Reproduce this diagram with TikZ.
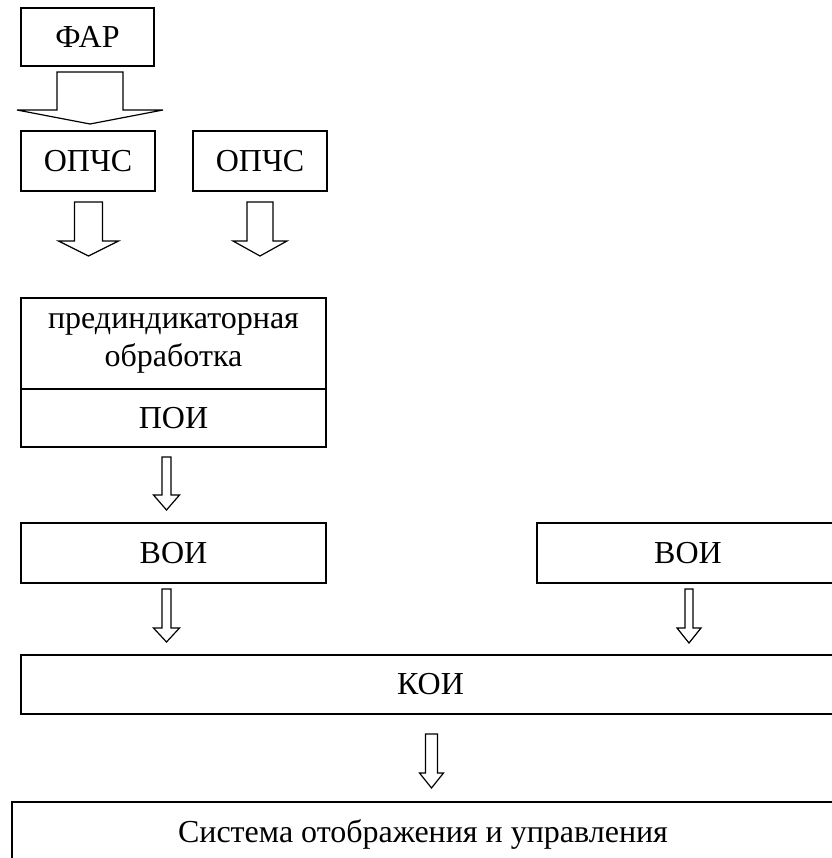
\documentclass[tikz,border=0pt]{standalone}
\usepackage{fontspec}
\setmainfont{Liberation Serif}
\newcommand\blkarrow[6]{% cx, top, shaftbottom, tip, halfshaft, halfhead
  \draw[barrow] (#1-#5,#2) -- (#1+#5,#2) -- (#1+#5,#3) -- (#1+#6,#3) -- (#1,#4) -- (#1-#6,#3) -- (#1-#5,#3) -- cycle;}
\begin{document}
\begin{tikzpicture}[x=1pt,y=-1pt,
  box/.style={draw, line width=1.2pt, inner sep=0pt, outer sep=0pt, anchor=north west, align=center},
  barrow/.style={draw, line width=1.2pt, line join=miter},
  font=\fontsize{32}{38}\selectfont]
\useasboundingbox (0,0) rectangle (831,858);
\node[box, minimum width=133pt, minimum height=58pt] (far) at (21,8) {ФАР};
\node[box, minimum width=134pt, minimum height=60pt] (opcs1) at (21,131) {ОПЧС};
\node[box, minimum width=134pt, minimum height=60pt] (opcs2) at (193,131) {ОПЧС};
\node[box, minimum width=305pt, minimum height=91pt] (pred) at (21,298) {прединдикаторная\\обработка};
\node[box, minimum width=305pt, minimum height=58pt] (poi) at (21,389) {ПОИ};
\node[box, minimum width=305pt, minimum height=60pt] (voi1) at (21,523) {ВОИ};
\node[box, minimum width=302pt, minimum height=60pt] (voi2) at (537,523) {ВОИ};
\node[box, minimum width=819pt, minimum height=59pt] (koi) at (21,655) {КОИ};
\node[box, minimum width=822pt, minimum height=64pt] (sys) at (12,802) {Система отображения и управления};
% block arrows
\blkarrow{90}{72}{110}{124}{33}{73}
\blkarrow{88.5}{202}{241}{256}{14}{30}
\blkarrow{260}{202}{241}{256}{13}{27}
\blkarrow{166.5}{457}{495}{510}{4.5}{13}
\blkarrow{166.5}{589}{628}{642}{4.5}{13}
\blkarrow{689}{589}{628}{643}{4}{12}
\blkarrow{431.5}{734}{773}{788}{6}{12}
\end{tikzpicture}
\end{document}
